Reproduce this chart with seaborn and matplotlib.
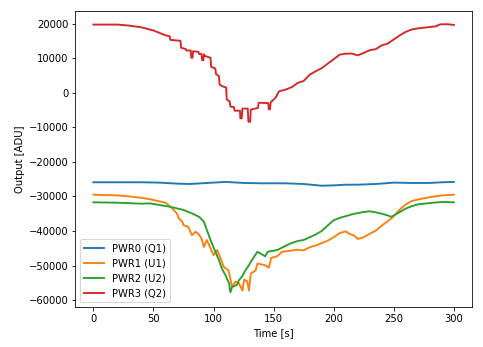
import matplotlib
matplotlib.use("Agg")
import matplotlib.pyplot as plt
import seaborn as sns
import pandas as pd

# ---- data ----
t_pwr3 = [0, 20, 30, 40, 50, 55, 60, 63.5, 64, 72.5, 73, 77, 77.5, 81, 81.5, 82.5, 83, 87.5, 88, 90, 90.5,
          91.5, 92, 93, 97.5, 98, 101.5, 102, 104.5, 105, 107, 110.5, 111, 113.5, 114, 117, 117.5, 122, 122.3,
          123.5, 124, 128.5, 129, 130.5, 131, 137, 137.5, 145.5, 146, 147, 147.5, 151.5, 154.5,
          160, 165, 170, 175, 180, 185, 190, 195, 200, 205, 210, 215, 220, 225, 230, 235, 240,
          245, 250, 255, 260, 265, 270, 275, 280, 285, 288, 290, 295, 300]
pwr3 = [19700, 19700, 19400, 18900, 18000, 17300, 16600, 16300, 15300, 15000, 13000, 12600, 12200, 12200,
        10100, 10100, 12000, 11800, 11200, 11200, 9400,
        9400, 11100, 10600, 10100, 7500, 7000, 5400, 4800, 2400, 1900, 1500, -2000, -2500, -4000, -4200,
        -5200, -5200, -7400, -7400, -4600, -4600, -8400, -8400, -4900, -4400, -2900, -3000, -4800, -4800,
        -2800, -1500, 400,
        900, 1600, 2800, 3400, 5200, 6200, 7100, 8400, 9700,
        11000, 11300, 11300, 10800, 11500, 12300, 12600, 13700, 14200, 15400, 16600, 17600, 18300, 18600,
        18800, 19000, 19200, 19700, 19800, 19800, 19600]

t_pwr0 = [0, 20, 40, 55, 70, 80, 95, 110, 125, 140, 160, 175, 190, 200, 210, 220, 235, 250, 265, 280, 290, 300]
pwr0 = [-25900, -25900, -25900, -26000, -26300, -26400, -26100, -25800, -26100, -26200, -26200, -26400, -26900,
        -26800, -26600, -26600, -26400, -26000, -26100, -26100, -25900, -25800]

t_pwr1 = [0, 20, 30, 40, 47, 60, 65.5, 69.5, 71, 74, 75, 79, 82, 85, 88, 90.5, 92, 94.5, 97.5, 100, 103, 106,
          108.5, 112.5, 114, 115.5, 118, 121, 124, 125.5, 128, 129.5, 131, 135, 136.5, 143, 146, 148, 153,
          157, 164, 170, 175, 180, 185, 190, 195, 200, 205, 210, 213, 217, 220, 225, 230, 235, 240, 245, 250,
          255, 260, 265, 270, 280, 290, 300]
pwr1 = [-29500, -29700, -30000, -30400, -30800, -31800, -33400, -34900, -36300, -37300, -38300, -38800, -41200,
        -40200, -41000, -42600, -44600, -42600, -45000, -47000, -45500, -48000,
        -50400, -51400, -53800, -56200, -54700, -55000, -57200, -54100, -54500, -57200, -52300, -51400, -49400,
        -49900, -50600, -47800, -47300,
        -46000, -45700, -45400, -45600, -44700, -44200, -43500, -42800, -41800, -40600, -40100, -40800, -41300,
        -42300, -41800, -40800, -39900, -38400, -37200, -35700,
        -33800, -32300, -31300, -30900, -30200, -29700, -29500]

t_pwr2 = [0, 20, 40, 47, 64, 75, 82, 88, 92, 93.5, 97.5, 101.5, 104.5, 107, 110, 113, 114, 115.5, 119.5, 121,
          124, 126.5, 129.5, 131, 136.5, 143, 145, 153, 164, 170, 175, 180, 185, 190, 195, 200,
          205, 210, 215, 220, 225, 230, 235, 240, 245, 248, 250, 255, 260, 265, 270, 280, 290, 300]
pwr2 = [-31700, -31800, -32100, -32000, -33000, -33900, -34900, -35900, -37300, -38800, -42600, -46000, -48400,
        -50900, -52800, -55200, -57700, -56200, -55600, -54300,
        -53000, -51400, -49900, -48900, -46000, -47300, -46000, -45500, -43600, -42900, -42600, -41800,
        -41000, -40000, -38400, -36900, -36200, -35700, -35200, -34800, -34500, -34300, -34600, -35000, -35500,
        -35900, -35500, -34500, -33500, -32800, -32300, -31900, -31600, -31700]

labels = ["PWR0 (Q1)", "PWR1 (U1)", "PWR2 (U2)", "PWR3 (Q2)"]
series = [(t_pwr0, pwr0), (t_pwr1, pwr1), (t_pwr2, pwr2), (t_pwr3, pwr3)]

frames = []
for lab, (tt, vv) in zip(labels, series):
    frames.append(pd.DataFrame({"Time": tt, "Output": vv, "Channel": lab}))
df = pd.concat(frames, ignore_index=True)

fig, ax = plt.subplots(figsize=(483 / 72, 347 / 72), dpi=72)
fig.subplots_adjust(left=0.156, right=0.977, top=0.968, bottom=0.115)

sns.lineplot(data=df, x="Time", y="Output", hue="Channel", hue_order=labels,
             palette=["#1f77b4", "#ff7f0e", "#2ca02c", "#d62728"],
             estimator=None, sort=False, linewidth=1.9, ax=ax)

ax.set_xlabel("Time [s]")
ax.set_ylabel("Output [ADU]")
ax.set_xticks([0, 50, 100, 150, 200, 250, 300])
ax.set_yticks([-60000, -50000, -40000, -30000, -20000, -10000, 0, 10000, 20000])
ax.set_xlim(-15, 315)
ax.set_ylim(-62000, 23600)
ax.legend(loc="lower left")

fig.savefig("out.png", dpi=72)
